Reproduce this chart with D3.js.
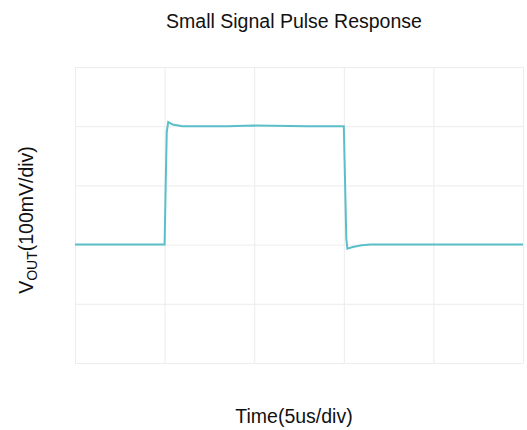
<!DOCTYPE html>
<html>
<head>
<meta charset="utf-8">
<script src="https://cdn.jsdelivr.net/npm/d3@7"></script>
<style>
  body { margin: 0; background: #fff; }
  text { font-family: "Liberation Sans", Arial, sans-serif; fill: #111; }
</style>
</head>
<body>
<div class="chart"></div>
<script>
// time in us, vout in mV (baseline = 0)
var timeUs = [0, 5.0, 5.06, 5.12, 5.2, 5.45, 6.0, 8.5, 10, 13, 15.0, 15.06, 15.14, 15.2, 15.5, 16.0, 16.5, 20, 25];
var voutMv = [0, 0, 100, 190, 207, 203, 200, 200, 201, 200, 200, 120, 10, -7, -4, -1, 0, 0, 0];

var xTicks = [0, 5, 10, 15, 20, 25];
var yTicks = [-200, -100, 0, 100, 200, 300];

var svgWidth = 527;
var svgHeight = 430;

var margin = { top: 67, right: 4, bottom: 67, left: 75 };
var width = svgWidth - margin.left - margin.right;
var height = svgHeight - margin.top - margin.bottom;

var svg = d3.select(".chart")
  .append("svg")
  .attr("width", svgWidth)
  .attr("height", svgHeight);

var chartGroup = svg.append("g")
  .attr("transform", `translate(${margin.left}, ${margin.top})`);

var xScale = d3.scaleLinear().domain([0, 25]).range([0, width]);
var yScale = d3.scaleLinear().domain([-200, 300]).range([height, 0]);

// grid
chartGroup.append("g")
  .attr("transform", `translate(0, ${height})`)
  .call(d3.axisBottom(xScale).tickValues(xTicks).tickSize(-height).tickFormat(""))
  .call(g => g.select(".domain").remove())
  .selectAll("line").attr("stroke", "#ececec");

chartGroup.append("g")
  .call(d3.axisLeft(yScale).tickValues(yTicks).tickSize(-width).tickFormat(""))
  .call(g => g.select(".domain").remove())
  .selectAll("line").attr("stroke", "#ececec");

// trace
var line = d3.line()
  .x((d, i) => xScale(timeUs[i]))
  .y(d => yScale(d));

chartGroup.append("path")
  .datum(voutMv)
  .attr("d", line)
  .attr("fill", "none")
  .attr("stroke", "#5bbfca")
  .attr("stroke-width", 2);

// title
svg.append("text")
  .attr("x", 294)
  .attr("y", 28)
  .attr("text-anchor", "middle")
  .style("font-size", "19.5px")
  .text("Small Signal Pulse Response");

// axis labels
var yLabel = svg.append("text")
  .attr("transform", `translate(33, 220) rotate(-90)`)
  .attr("text-anchor", "middle")
  .style("font-size", "19.5px");
yLabel.append("tspan").text("V");
yLabel.append("tspan").attr("dy", 4).style("font-size", "14px").text("OUT");
yLabel.append("tspan").attr("dy", -4).text("(100mV/div)");

svg.append("text")
  .attr("x", 294)
  .attr("y", 423)
  .attr("text-anchor", "middle")
  .style("font-size", "19.5px")
  .text("Time(5us/div)");
</script>
</body>
</html>
